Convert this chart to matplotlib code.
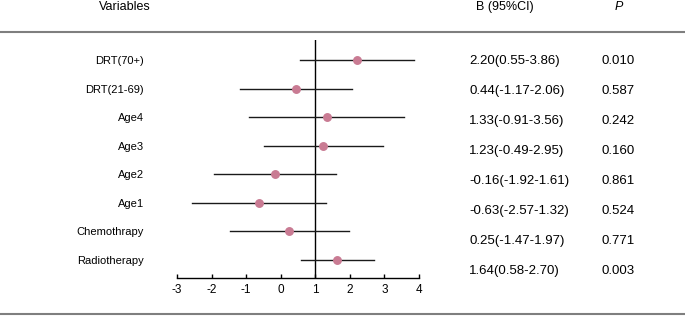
import matplotlib
matplotlib.use('Agg')
import matplotlib.pyplot as plt
from matplotlib.lines import Line2D

plt.rcParams['font.family'] = ['Liberation Sans', 'DejaVu Sans']

# data
variables = ['DRT(70+)', 'DRT(21-69)', 'Age4', 'Age3', 'Age2', 'Age1',
             'Chemothrapy', 'Radiotherapy']
estimate = [2.20, 0.44, 1.33, 1.23, -0.16, -0.63, 0.25, 1.64]
ci_low = [0.55, -1.17, -0.91, -0.49, -1.92, -2.57, -1.47, 0.58]
ci_high = [3.86, 2.06, 3.56, 2.95, 1.61, 1.32, 1.97, 2.70]
ci_text = ['2.20(0.55-3.86)', '0.44(-1.17-2.06)', '1.33(-0.91-3.56)',
           '1.23(-0.49-2.95)', '-0.16(-1.92-1.61)', '-0.63(-2.57-1.32)',
           '0.25(-1.47-1.97)', '1.64(0.58-2.70)']
p_text = ['0.010', '0.587', '0.242', '0.160', '0.861', '0.524', '0.771', '0.003']
xticks = [-3, -2, -1, 0, 1, 2, 3, 4]

W, H = 685, 319
fig = plt.figure(figsize=(W / 100, H / 100), dpi=100)

# plot area in pixel terms -> figure fraction
left, right, top, bottom = 177, 419, 40, 278
ax = fig.add_axes([left / W, 1 - bottom / H, (right - left) / W, (bottom - top) / H])

n = len(variables)
ys = list(range(n, 0, -1))
pink = '#c97b93'

for y, e, lo, hi in zip(ys, estimate, ci_low, ci_high):
    ax.plot([lo, hi], [y, y], color='#1a1a1a', lw=1.0, zorder=2)
    ax.plot(e, y, 'o', color=pink, ms=5.4, mec=pink, zorder=3)

ax.axvline(1, color='black', lw=1.0, zorder=1)

ax.set_xlim(-3, 4)
ax.set_ylim(1 - 18 / 28.57, 1 + 220 / 28.57)
ax.set_xticks(xticks)
ax.set_xticklabels([str(t) for t in xticks], fontsize=8.5)
ax.tick_params(axis='x', direction='in', length=3, width=1, pad=4)
ax.set_yticks(ys)
ax.set_yticklabels(variables, fontsize=8.0)
ax.tick_params(axis='y', length=0, pad=24)
for s in ['top', 'right', 'left']:
    ax.spines[s].set_visible(False)
ax.spines['bottom'].set_linewidth(1.0)

# header
fig.text(125 / W, 1 - 7 / H, 'Variables', ha='center', va='center', fontsize=9)
fig.text(505 / W, 1 - 7 / H, 'B (95%CI)', ha='center', va='center', fontsize=9)
fig.text(619 / W, 1 - 7 / H, 'P', ha='center', va='center', fontsize=9, style='italic')

# table columns on the right
for i, (c, p) in enumerate(zip(ci_text, p_text)):
    ypix = 61 + i * 30.0
    fig.text(469 / W, 1 - ypix / H, c, ha='left', va='center', fontsize=9.5)
    fig.text(602 / W, 1 - ypix / H, p, ha='left', va='center', fontsize=9.5)

# rules
for ypix in (32, 314):
    fig.add_artist(Line2D([0, 1], [1 - ypix / H, 1 - ypix / H], color='#7f7f7f', lw=1.5))

fig.savefig('out.png', dpi=100)
